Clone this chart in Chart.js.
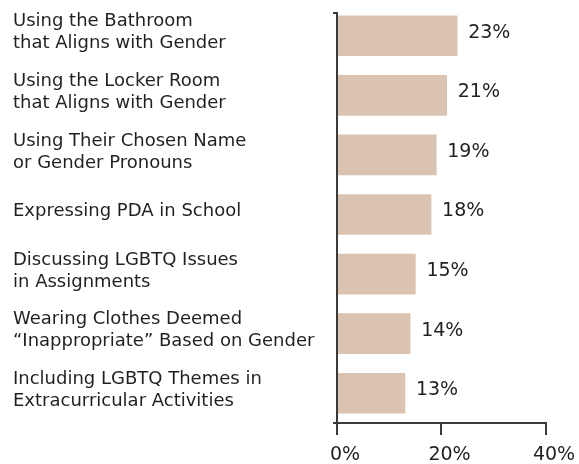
<!DOCTYPE html>
<html>
<head>
<meta charset="utf-8">
<script src="https://cdn.jsdelivr.net/npm/chart.js@4"></script>
<style>
  html, body { margin: 0; padding: 0; background: #fff; }
</style>
</head>
<body>
<canvas id="chart" width="579" height="464"></canvas>
<script>
const categories = [
    ["Using the Bathroom", "that Aligns with Gender"],
    ["Using the Locker Room", "that Aligns with Gender"],
    ["Using Their Chosen Name", "or Gender Pronouns"],
    "Expressing PDA in School",
    ["Discussing LGBTQ Issues", "in Assignments"],
    ["Wearing Clothes Deemed", "\u201cInappropriate\u201d Based on Gender"],
    ["Including LGBTQ Themes in", "Extracurricular Activities"]
]
const values = [23, 21, 19, 18, 15, 14, 13]
const xTicks = [0, 20, 40]

const textColor = '#231f20'
const axisColor = '#3a3a3a'
const fontFamily = '"DejaVu Sans", sans-serif'

// value labels to the right of each bar
const valueLabels = {
    id: 'valueLabels',
    afterDatasetsDraw(chart) {
        const { ctx } = chart
        const meta = chart.getDatasetMeta(0)
        ctx.save()
        ctx.fillStyle = textColor
        ctx.font = '19px ' + fontFamily
        ctx.textAlign = 'left'
        ctx.textBaseline = 'middle'
        meta.data.forEach((bar, i) => {
            ctx.fillText(values[i] + '%', bar.x + 11, bar.y - 3)
        })
        ctx.restore()
    }
}

// axis lines: y axis starts a little below the plot top with a small cap,
// x axis gets tick marks hanging down
const axisLines = {
    id: 'axisLines',
    afterDraw(chart) {
        const { ctx, chartArea } = chart
        const x = chart.scales.x
        const left = Math.round(chartArea.left)
        const right = Math.round(chartArea.right)
        const bottom = Math.round(chartArea.bottom)
        const top = Math.round(chartArea.top) + 7
        ctx.save()
        ctx.fillStyle = axisColor
        ctx.fillRect(left - 4, top - 1, 5, 2)
        ctx.fillRect(left - 1, top, 2, bottom - top)
        ctx.fillRect(left - 4, bottom - 1, right - left + 5, 2)
        for (const v of xTicks) {
            const px = Math.floor(x.getPixelForValue(v))
            ctx.fillRect(px - 1, bottom - 1, 2, 13)
        }
        ctx.restore()
    }
}

new Chart(document.getElementById('chart'), {
    type: 'bar',
    data: {
        labels: categories,
        datasets: [{
            data: values,
            backgroundColor: '#dbc3b2',
            barThickness: 40,
        }]
    },
    options: {
        responsive: false,
        animation: false,
        indexAxis: 'y',
        layout: { padding: { left: 13, right: 33, top: 6, bottom: 0 } },
        plugins: {
            legend: { display: false },
            tooltip: { enabled: false }
        },
        scales: {
            x: {
                min: xTicks[0],
                max: xTicks[xTicks.length - 1],
                afterBuildTicks: (scale) => { scale.ticks = xTicks.map(v => ({ value: v })) },
                afterFit: (scale) => {
                    scale.height = 41
                    scale.paddingLeft = 0
                    scale.paddingRight = 0
                },
                border: { display: false },
                grid: { display: false, drawTicks: false },
                ticks: {
                    color: textColor,
                    font: { family: fontFamily, size: 19 },
                    padding: 21,
                    labelOffset: 8,
                    maxRotation: 0,
                    callback: (v) => v + '%'
                }
            },
            y: {
                afterFit: (scale) => {
                    scale.width = 324
                    scale.paddingTop = 0
                    scale.paddingBottom = 0
                },
                border: { display: false },
                grid: { display: false },
                ticks: {
                    color: textColor,
                    crossAlign: 'far',
                    labelOffset: -3,
                    font: { family: fontFamily, size: 18, lineHeight: 1.22 }
                }
            }
        }
    },
    plugins: [valueLabels, axisLines]
})
</script>
</body>
</html>
